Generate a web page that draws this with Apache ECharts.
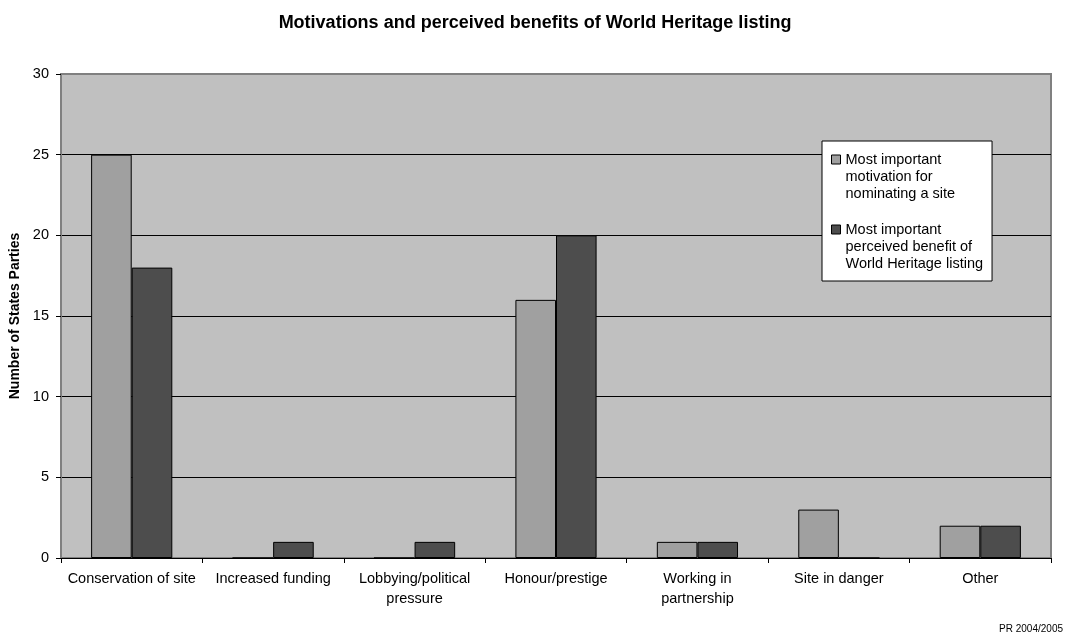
<!DOCTYPE html>
<html>
<head>
<meta charset="utf-8">
<script src="https://cdn.jsdelivr.net/npm/echarts@6/dist/echarts.min.js"></script>
<style>
html,body{margin:0;padding:0;background:#fff;}
#chart{width:1070px;height:643px;}
</style>
</head>
<body>
<div id="chart"></div>
<script>
const categories = ['Conservation of site', 'Increased funding', 'Lobbying/political\npressure', 'Honour/prestige', 'Working in\npartnership', 'Site in danger', 'Other'];
const motivation = [25, 0, 0, 16, 1, 3, 2];
const benefit = [18, 1, 1, 20, 1, 0, 2];
const seriesNames = ['Most important\nmotivation for\nnominating a site', 'Most important\nperceived benefit of\nWorld Heritage listing'];
const yTicks = { min: 0, max: 30, interval: 5 };

const FONT = 'Liberation Sans, Arial, sans-serif';
const chart = echarts.init(document.getElementById('chart'), null, { renderer: 'canvas' });
chart.setOption({
  animation: false,
  backgroundColor: '#ffffff',
  textStyle: { fontFamily: FONT, color: '#000' },
  title: [{
    text: 'Motivations and perceived benefits of World Heritage listing',
    left: 'center',
    top: 9,
    textStyle: { fontFamily: FONT, fontSize: 18, fontWeight: 'bold', color: '#000' }
  }, {
    text: 'PR 2004/2005',
    right: 2,
    bottom: 4,
    textStyle: { fontFamily: FONT, fontSize: 10, fontWeight: 'normal', color: '#000' }
  }],
  grid: {
    left: 61, right: 19, top: 74, bottom: 85,
    outerBoundsMode: 'none',
    containLabel: false,
    show: true,
    backgroundColor: '#c0c0c0',
    borderColor: '#808080',
    borderWidth: 2
  },
  legend: {
    orient: 'vertical',
    left: 822,
    top: 141,
    backgroundColor: '#ffffff',
    borderColor: '#000',
    borderWidth: 1,
    borderRadius: 0,
    padding: [9.5, 9, 8.5, 9],
    itemWidth: 9,
    itemHeight: 51,
    itemGap: 18,
    icon: 'path://M0,4L9,4L9,13L0,13Z M0,0 M9,51',
    itemStyle: { borderColor: '#000', borderWidth: 1 },
    textStyle: { fontFamily: FONT, fontSize: 14.5, lineHeight: 17, color: '#000' },
    selectedMode: false
  },
  xAxis: {
    type: 'category',
    data: categories,
    axisLine: { show: true, lineStyle: { color: '#000', width: 1 } },
    axisTick: { show: true, alignWithLabel: false, length: 5, lineStyle: { color: '#000' } },
    axisLabel: { fontFamily: FONT, fontSize: 14.5, lineHeight: 20, color: '#000', margin: 11, interval: 0 },
    splitLine: { show: false }
  },
  yAxis: {
    type: 'value',
    min: yTicks.min, max: yTicks.max, interval: yTicks.interval,
    name: 'Number of States Parties',
    nameLocation: 'middle',
    nameRotate: 90,
    nameGap: 36,
    nameTextStyle: { fontFamily: FONT, fontSize: 14, fontWeight: 'bold', color: '#000' },
    axisLine: { show: true, lineStyle: { color: '#808080', width: 2 } },
    axisTick: { show: true, length: 5, lineStyle: { color: '#000' } },
    axisLabel: { fontFamily: FONT, fontSize: 14.5, color: '#000', margin: 12 },
    splitLine: { show: true, showMinLine: false, showMaxLine: false, lineStyle: { color: '#000', width: 1 } }
  },
  series: [{
    name: seriesNames[0],
    type: 'bar',
    data: motivation,
    barGap: '0%',
    barCategoryGap: '42.6%',
    itemStyle: { color: '#a0a0a0', borderColor: '#000', borderWidth: 1 }
  }, {
    name: seriesNames[1],
    type: 'bar',
    data: benefit,
    barGap: '0%',
    barCategoryGap: '42.6%',
    itemStyle: { color: '#4d4d4d', borderColor: '#000', borderWidth: 1 }
  }]
});
</script>
</body>
</html>
